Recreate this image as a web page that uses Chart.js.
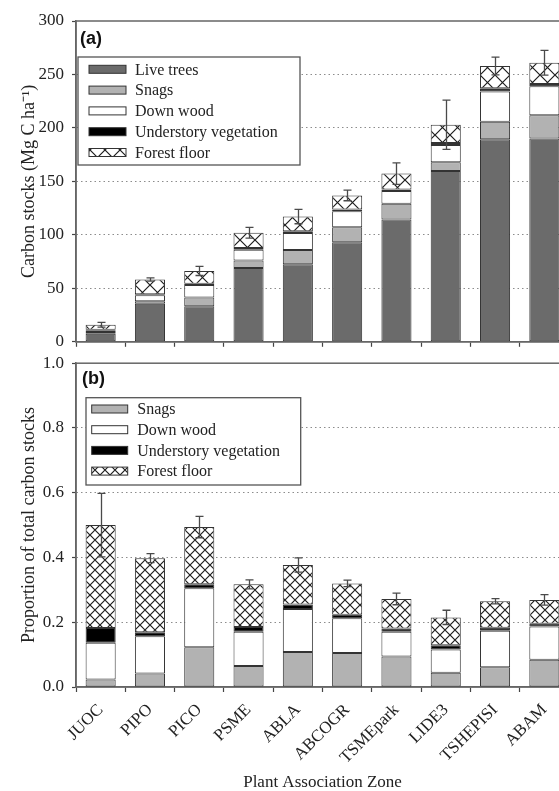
<!DOCTYPE html>
<html><head><meta charset="utf-8">
<script src="https://cdn.jsdelivr.net/npm/chart.js@4.4.1/dist/chart.umd.min.js"></script>
<style>
html,body{margin:0;padding:0;background:#fff;overflow:hidden;width:559px;height:791px;}
#wrap{position:relative;width:559px;height:791px;overflow:hidden;}
canvas{position:absolute;left:0;}
#cTop{top:0;}
#cBot{top:345px;}
</style></head><body>
<div id="wrap">
<canvas id="cTop" width="569" height="360"></canvas>
<canvas id="cBot" width="569" height="446"></canvas>
</div>
<script>
// ---------- data ----------
const categories = ['JUOC','PIPO','PICO','PSME','ABLA','ABCOGR','TSMEpark','LIDE3','TSHEPISI','ABAM'];

// (a) carbon stocks, Mg C ha-1 (segment sizes)
const stockLive   = [7.6, 35.5, 33.2, 69.0, 72.6, 93.2, 114.3, 159.8, 189.5, 190.1];
const stockSnags  = [1.6,  2.5,  8.3,  7.0, 13.2, 14.0,  14.7,   8.2,  16.3,  21.8];
const stockDown   = [1.6,  5.5, 11.6, 10.1, 15.9, 15.0,  12.0,  16.0,  28.2,  27.0];
const stockUnder  = [0.5,  0.9,  1.3,  1.6,  1.6,  1.6,   1.5,   1.8,   3.1,   2.1];
const stockFloor  = [4.7, 13.8, 11.9, 14.3, 13.8, 13.1,  14.8,  17.2,  20.8,  20.0];
const stockError  = [2.2,  1.5,  4.3,  5.0,  6.7,  5.0,  10.1,  23.0,   8.3,  11.6];

// (b) proportion of total carbon stocks (segment sizes)
const propSnags   = [0.023, 0.042, 0.123, 0.065, 0.108, 0.105, 0.094, 0.044, 0.061, 0.084];
const propDown    = [0.114, 0.115, 0.182, 0.106, 0.133, 0.107, 0.077, 0.072, 0.113, 0.103];
const propUnder   = [0.045, 0.012, 0.012, 0.014, 0.014, 0.011, 0.010, 0.013, 0.009, 0.008];
const propFloor   = [0.318, 0.229, 0.177, 0.132, 0.122, 0.097, 0.091, 0.086, 0.082, 0.074];
const propError   = [0.098, 0.014, 0.033, 0.014, 0.022, 0.010, 0.018, 0.022, 0.008, 0.016];

const stockTicks = [0, 50, 100, 150, 200, 250, 300];
const propTicks  = [0.0, 0.2, 0.4, 0.6, 0.8, 1.0];

const labelLive = 'Live trees', labelSnags = 'Snags', labelDown = 'Down wood',
      labelUnder = 'Understory vegetation', labelFloor = 'Forest floor';

// ---------- styles ----------
const SERIF = "'Liberation Serif', 'Times New Roman', serif";
const SANS = "'Liberation Sans', Arial, sans-serif";
const colLive = '#6b6b6b', colSnags = '#b2b2b2', colDown = '#ffffff', colUnder = '#000000';
const edge = '#333333';

function makeHatch(canvas, size) {
  const c = document.createElement('canvas');
  c.width = c.height = size;
  const g = c.getContext('2d');
  g.fillStyle = '#fff'; g.fillRect(0, 0, size, size);
  g.strokeStyle = '#1e1e1e'; g.lineWidth = 1.2;
  g.beginPath();
  g.moveTo(-1, -1); g.lineTo(size + 1, size + 1);
  g.moveTo(size + 1, -1); g.lineTo(-1, size + 1);
  g.stroke();
  return canvas.getContext('2d').createPattern(c, 'repeat');
}

const framePlugin = {
  id: 'frame',
  beforeDatasetsDraw(chart) {
    const {ctx, chartArea: a} = chart;
    ctx.save(); ctx.strokeStyle = '#666'; ctx.lineWidth = 1.5;
    ctx.strokeRect(a.left, a.top, a.right - a.left, a.bottom - a.top);
    ctx.restore();
  }
};

const errorPlugin = {
  id: 'errorBars',
  afterDatasetsDraw(chart, args, o) {
    const {ctx} = chart; const xs = chart.scales.x, ys = chart.scales.y;
    const ds = chart.data.datasets;
    ctx.save(); ctx.strokeStyle = '#4a4a4a'; ctx.lineWidth = 1.3;
    o.errors.forEach((e, i) => {
      const total = ds.reduce((s, d) => s + d.data[i], 0);
      const px = Math.round(xs.getPixelForValue(i)) + 0.5;
      const y1 = ys.getPixelForValue(total + e), y2 = ys.getPixelForValue(total - e);
      ctx.beginPath();
      ctx.moveTo(px, y1); ctx.lineTo(px, y2);
      ctx.moveTo(px - 4, y1); ctx.lineTo(px + 4, y1);
      ctx.moveTo(px - 4, y2); ctx.lineTo(px + 4, y2);
      ctx.stroke();
    });
    ctx.restore();
  }
};

const boxLegend = {
  id: 'boxLegend',
  afterDraw(chart, args, o) {
    const {ctx} = chart;
    ctx.save();
    ctx.fillStyle = '#fff'; ctx.fillRect(o.x, o.y, o.w, o.h);
    ctx.strokeStyle = '#555'; ctx.lineWidth = 1.3; ctx.strokeRect(o.x, o.y, o.w, o.h);
    ctx.font = '16px ' + SERIF; ctx.textBaseline = 'middle'; ctx.textAlign = 'left';
    chart.data.datasets.forEach((d, i) => {
      const cy = o.y + o.first + i * o.step;
      ctx.fillStyle = d.backgroundColor;
      ctx.fillRect(o.sx, cy - o.sh / 2, o.sw, o.sh);
      ctx.strokeStyle = edge; ctx.lineWidth = 1;
      ctx.strokeRect(o.sx, cy - o.sh / 2, o.sw, o.sh);
      ctx.fillStyle = '#222';
      ctx.fillText(d.label, o.tx, cy + 1);
    });
    ctx.font = 'bold 18px ' + SANS; ctx.fillStyle = '#111';
    ctx.fillText(o.panel, o.px, o.py);
    ctx.restore();
  }
};

function makeOptions(cfg) {
  return {
    responsive: false, animation: false, devicePixelRatio: 1,
    layout: { padding: { top: cfg.padTop, left: 0, right: 0, bottom: 0 } },
    plugins: {
      legend: { display: false }, tooltip: { enabled: false },
      boxLegend: cfg.legend, errorBars: { errors: cfg.errors }
    },
    datasets: { bar: { categoryPercentage: 1.0, barPercentage: 0.61 } },
    scales: {
      x: {
        stacked: true, offset: true,
        grid: { display: true, drawOnChartArea: false, drawTicks: true, tickLength: 5, tickColor: '#444', tickWidth: 1.2 },
        border: { display: true, color: '#666', width: 1.5 },
        ticks: { display: cfg.xLabels, autoSkip: false, maxRotation: 45, minRotation: 45, padding: 8, color: '#222',
                 font: { family: SERIF, size: 17 } },
        title: { display: !!cfg.xTitle, text: cfg.xTitle || '', color: '#222', font: { family: SERIF, size: 17, lineHeight: 1 }, padding: { top: 0, bottom: 0 } },
        afterFit(s) { s.height = cfg.xHeight; }
      },
      y: {
        stacked: true, min: cfg.ticks[0], max: cfg.ticks[cfg.ticks.length - 1],
        afterBuildTicks(s) { s.ticks = cfg.ticks.map(v => ({ value: v })); },
        ticks: { padding: 8, color: '#222', font: { family: SERIF, size: 17 }, callback: cfg.fmt },
        grid: {
          color: c => (c.tick && (Math.abs(c.tick.value - cfg.ticks[0]) < 1e-9 || Math.abs(c.tick.value - cfg.ticks[cfg.ticks.length - 1]) < 1e-9)) ? 'rgba(0,0,0,0)' : '#8c8c8c',
          lineWidth: 1, tickLength: 4, tickColor: '#444', tickWidth: 1.2
        },
        border: { display: true, color: '#666', width: 1.5, dash: [1.5, 3] },
        title: { display: true, text: cfg.yTitle, color: '#222', font: { family: SERIF, size: 18 }, padding: { top: 18, bottom: 0 } },
        afterFit(s) { s.width = 76; }
      }
    }
  };
}

function seg(label, data, color) {
  return { label, data, backgroundColor: color, borderColor: edge, borderWidth: 1, borderSkipped: false };
}

const cTop = document.getElementById('cTop');
const cBot = document.getElementById('cBot');
const hatchTop = makeHatch(cTop, 15);
const hatchBot = makeHatch(cBot, 10);

new Chart(cTop, {
  type: 'bar',
  data: {
    labels: categories,
    datasets: [
      seg(labelLive, stockLive, colLive),
      seg(labelSnags, stockSnags, colSnags),
      seg(labelDown, stockDown, colDown),
      seg(labelUnder, stockUnder, colUnder),
      seg(labelFloor, stockFloor, hatchTop)
    ]
  },
  options: makeOptions({
    padTop: 21, xHeight: 13, xLabels: false, ticks: stockTicks, errors: stockError,
    fmt: v => String(v),
    yTitle: 'Carbon stocks (Mg C ha\u207B\u00B9)',
    legend: { x: 78, y: 57, w: 222, h: 108, first: 12.3, step: 20.8, sx: 89, sw: 37, sh: 8, tx: 135, panel: '(a)', px: 80, py: 39 }
  }),
  plugins: [framePlugin, errorPlugin, boxLegend]
});

new Chart(cBot, {
  type: 'bar',
  data: {
    labels: categories,
    datasets: [
      seg(labelSnags, propSnags, colSnags),
      seg(labelDown, propDown, colDown),
      seg(labelUnder, propUnder, colUnder),
      seg(labelFloor, propFloor, hatchBot)
    ]
  },
  options: makeOptions({
    padTop: 16, xHeight: 104, xLabels: true, ticks: propTicks, errors: propError,
    fmt: v => Number(v).toFixed(1),
    yTitle: 'Proportion of total carbon stocks',
    xTitle: 'Plant Association Zone',
    legend: { x: 86, y: 52.7, w: 214.7, h: 87.3, first: 11.3, step: 20.7, sx: 91.7, sw: 36, sh: 8, tx: 137.3, panel: '(b)', px: 82, py: 34 }
  }),
  plugins: [framePlugin, errorPlugin, boxLegend]
});
</script>
</body></html>
